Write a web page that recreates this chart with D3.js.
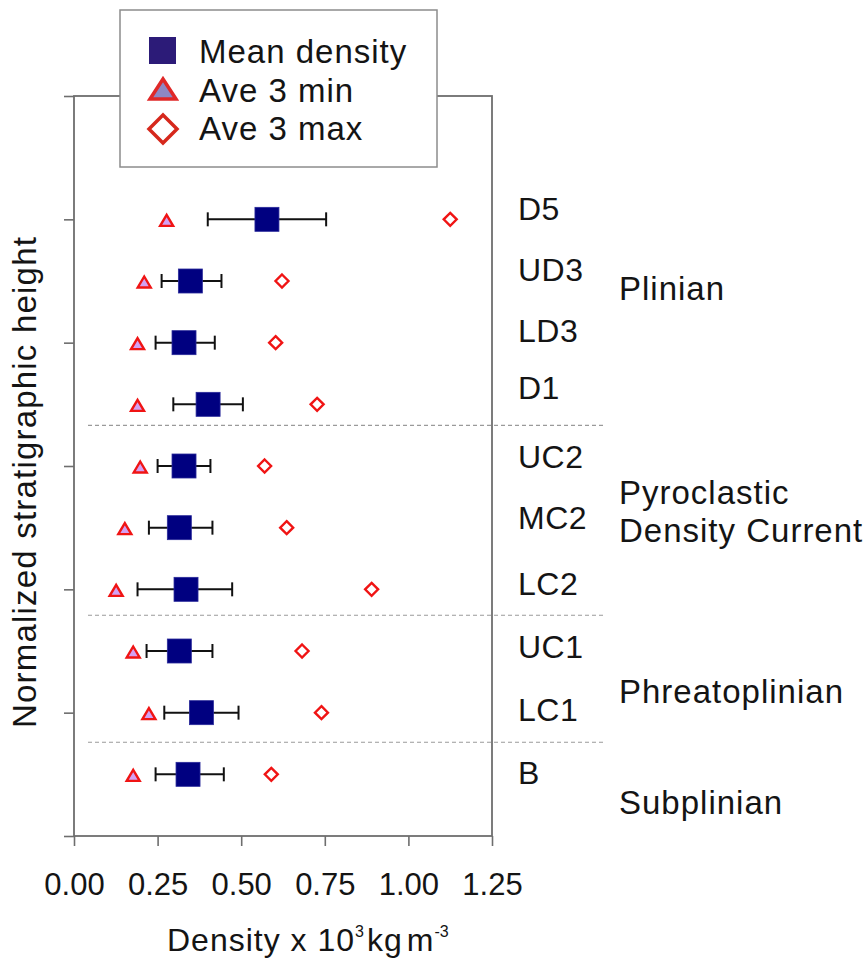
<!doctype html>
<html>
  <head>
    <meta charset="utf-8">
    <title>Density vs stratigraphic height</title>
    <script src="https://cdnjs.cloudflare.com/ajax/libs/d3/7.8.5/d3.min.js"></script>
    <style>
      body { margin: 0; background: #fff; }
      text { font-family: "Liberation Sans", Arial, sans-serif; fill: #141414; }
    </style>
  </head>
  <body>
    <div id="chart"></div>
    <script>
      // layers, bottom to top, with their normalized height
      const layers = ['B', 'LC1', 'UC1', 'LC2', 'MC2', 'UC2', 'D1', 'LD3', 'UD3', 'D5'];
      const heights = [1, 2, 3, 4, 5, 6, 7, 8, 9, 10];
      const labelHeights = [0.84, 1.86, 2.89, 3.91, 4.98, 5.97, 7.09, 8.01, 9.0, 9.99];

      // densities (x 10^3 kg m^-3)
      const meanDensity = [0.341, 0.381, 0.315, 0.335, 0.315, 0.329, 0.401, 0.329, 0.348, 0.577];
      const errLow      = [0.244, 0.270, 0.217, 0.190, 0.224, 0.250, 0.297, 0.244, 0.262, 0.400];
      const errHigh     = [0.448, 0.492, 0.414, 0.473, 0.414, 0.408, 0.505, 0.421, 0.441, 0.754];
      const ave3min     = [0.177, 0.224, 0.177, 0.126, 0.152, 0.198, 0.190, 0.190, 0.210, 0.277];
      const ave3max     = [0.590, 0.740, 0.682, 0.890, 0.636, 0.570, 0.727, 0.603, 0.622, 1.125];

      // eruption phases
      const boundaries = [1.52, 3.58, 6.66];
      const phaseLines = [['Subplinian'], ['Phreatoplinian'], ['Pyroclastic', 'Density Current'], ['Plinian']];
      const phaseHeights = [[0.35], [2.16], [5.38, 4.76], [8.69]];

      const xTicks = [0, 0.25, 0.5, 0.75, 1.0, 1.25];
      const yTicks = [0, 2, 4, 6, 8, 10, 12];

      const W = 864, H = 961;
      const pLeft = 74, pRight = 492, pTop = 96, pBottom = 836;

      const svg = d3.select('#chart').append('svg')
        .attr('width', W).attr('height', H);

      const x = d3.scaleLinear().domain([0, 1.25]).range([pLeft, pRight]);
      const y = d3.scaleLinear().domain([0, 12]).range([pBottom, pTop]);

      const rows = layers.map((name, i) => ({
        name, h: heights[i], lh: labelHeights[i],
        mean: meanDensity[i], lo: errLow[i], hi: errHigh[i],
        min: ave3min[i], max: ave3max[i]
      }));

      // axes (ticks only, frame drawn separately)
      const xAxis = svg.append('g')
        .attr('transform', `translate(0,${pBottom})`)
        .call(d3.axisBottom(x).tickValues(xTicks).tickSize(10).tickSizeOuter(0)
          .tickPadding(27).tickFormat(d3.format('.2f')));
      xAxis.select('.domain').remove();
      xAxis.selectAll('line').attr('stroke', '#6e6e6e').attr('stroke-width', 1.6);
      xAxis.selectAll('text').attr('font-size', 31).attr('fill', '#141414')
        .style('font-family', '"Liberation Sans", Arial, sans-serif');

      const yAxis = svg.append('g')
        .attr('transform', `translate(${pLeft},0)`)
        .call(d3.axisLeft(y).tickValues(yTicks).tickSize(10).tickSizeOuter(0).tickFormat(''));
      yAxis.select('.domain').remove();
      yAxis.selectAll('line').attr('stroke', '#6e6e6e').attr('stroke-width', 1.6);

      svg.append('rect')
        .attr('x', pLeft).attr('y', pTop)
        .attr('width', pRight - pLeft).attr('height', pBottom - pTop)
        .attr('fill', 'none').attr('stroke', '#6e6e6e').attr('stroke-width', 1.8);

      // phase separators
      svg.selectAll('line.sep')
        .data(boundaries)
        .join('line')
        .attr('class', 'sep')
        .attr('x1', 88).attr('x2', 605)
        .attr('y1', d => y(d)).attr('y2', d => y(d))
        .attr('stroke', '#9a9a9a').attr('stroke-width', 1.2)
        .attr('stroke-dasharray', '4,3');

      // error bars
      const eb = svg.append('g').attr('stroke', '#111').attr('stroke-width', 2);
      eb.selectAll('line.bar').data(rows).join('line').attr('class', 'bar')
        .attr('x1', d => x(d.lo)).attr('x2', d => x(d.hi))
        .attr('y1', d => y(d.h)).attr('y2', d => y(d.h));
      eb.selectAll('line.capl').data(rows).join('line').attr('class', 'capl')
        .attr('x1', d => x(d.lo)).attr('x2', d => x(d.lo))
        .attr('y1', d => y(d.h) - 7).attr('y2', d => y(d.h) + 7);
      eb.selectAll('line.caph').data(rows).join('line').attr('class', 'caph')
        .attr('x1', d => x(d.hi)).attr('x2', d => x(d.hi))
        .attr('y1', d => y(d.h) - 7).attr('y2', d => y(d.h) + 7);

      // mean squares
      svg.selectAll('rect.mean').data(rows).join('rect')
        .attr('class', 'mean')
        .attr('x', d => x(d.mean) - 12).attr('y', d => y(d.h) - 12)
        .attr('width', 24).attr('height', 24)
        .attr('fill', '#000080').attr('stroke', '#2a2a9a').attr('stroke-width', 0.8);

      // ave 3 min triangles
      const tri = (cx, cy, w, h) =>
        `M${cx},${cy - h / 2}L${cx + w / 2},${cy + h / 2}L${cx - w / 2},${cy + h / 2}Z`;
      svg.selectAll('path.min').data(rows).join('path')
        .attr('class', 'min')
        .attr('d', d => tri(x(d.min), y(d.h) + 1, 13, 11))
        .attr('fill', '#d4a0f2').attr('stroke', '#f01414').attr('stroke-width', 2.4);

      // ave 3 max diamonds
      const dia = (cx, cy, r) =>
        `M${cx},${cy - r}L${cx + r},${cy}L${cx},${cy + r}L${cx - r},${cy}Z`;
      svg.selectAll('path.max').data(rows).join('path')
        .attr('class', 'max')
        .attr('d', d => dia(x(d.max), y(d.h), 6.5))
        .attr('fill', '#fff').attr('stroke', '#f01414').attr('stroke-width', 2.4);

      // layer labels
      svg.selectAll('text.layer').data(rows).join('text')
        .attr('class', 'layer')
        .attr('x', 518).attr('y', d => y(d.lh))
        .attr('font-size', 32).attr('letter-spacing', 0.5)
        .text(d => d.name);

      // phase labels
      phaseLines.forEach((lines, i) => {
        lines.forEach((t, j) => {
          svg.append('text')
            .attr('x', 619).attr('y', y(phaseHeights[i][j]))
            .attr('font-size', 33).attr('letter-spacing', 1)
            .text(t);
        });
      });

      // axis titles
      const xt = svg.append('text')
        .attr('x', 167).attr('y', 951)
        .attr('font-size', 32);
      xt.append('tspan').attr('letter-spacing', 1).text('Density x 10');
      xt.append('tspan').attr('font-size', 16).attr('dy', -14).text('3');
      xt.append('tspan').attr('dy', 14).attr('dx', 3).attr('letter-spacing', 1).text('kg');
      xt.append('tspan').attr('dx', 4).text('m');
      xt.append('tspan').attr('font-size', 16).attr('dy', -14).attr('dx', 1).text('-3');

      svg.append('text')
        .attr('transform', `translate(36,482) rotate(-90)`)
        .attr('text-anchor', 'middle')
        .attr('font-size', 33).attr('letter-spacing', 1.2)
        .text('Normalized stratigraphic height');

      // legend
      const lg = svg.append('g');
      lg.append('rect')
        .attr('x', 120).attr('y', 10).attr('width', 317).attr('height', 157)
        .attr('fill', '#fff').attr('stroke', '#8c8c8c').attr('stroke-width', 1.5);
      lg.append('rect')
        .attr('x', 149).attr('y', 37).attr('width', 27).attr('height', 27)
        .attr('fill', '#2c1b78');
      lg.append('path')
        .attr('d', tri(163, 89, 26, 20))
        .attr('fill', '#8e88c4').attr('stroke', '#e02828').attr('stroke-width', 3.5);
      lg.append('path')
        .attr('d', dia(163, 129, 14))
        .attr('fill', '#fff').attr('stroke', '#d6281c').attr('stroke-width', 3.5);
      const legendText = ['Mean density', 'Ave 3 min', 'Ave 3 max'];
      lg.selectAll('text').data(legendText).join('text')
        .attr('x', 199).attr('y', (d, i) => 63 + i * 38.5)
        .attr('font-size', 33).attr('letter-spacing', 1)
        .text(d => d);
    </script>
  </body>
</html>
